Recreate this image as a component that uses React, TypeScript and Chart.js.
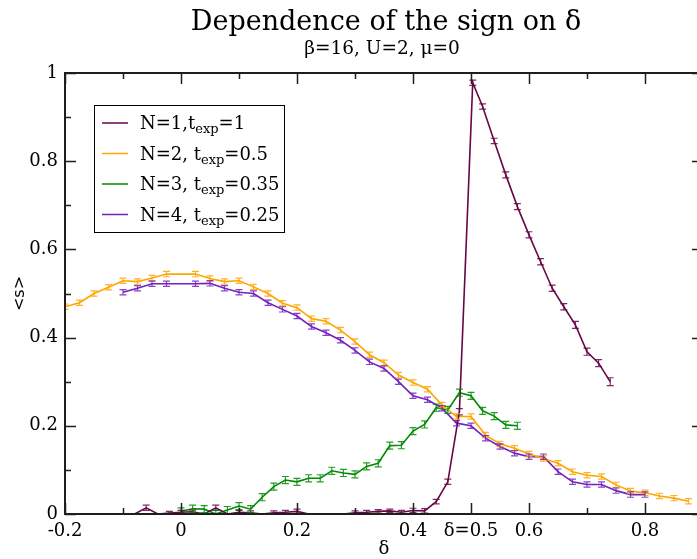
import React, { useEffect, useRef } from "react";
import { Chart, registerables } from "chart.js";

Chart.register(...registerables);

// ---- data ----
const N1_X = [-0.08, -0.06, -0.04, -0.02, 0, 0.02, 0.04, 0.06, 0.08, 0.1, 0.12, 0.14, 0.16, 0.18, 0.2, 0.22, 0.24, 0.26, 0.28, 0.3, 0.32, 0.34, 0.36, 0.38, 0.4, 0.42, 0.44, 0.46, 0.48, 0.503, 0.52, 0.54, 0.56, 0.58, 0.6, 0.62, 0.64, 0.66, 0.68, 0.7, 0.72, 0.74];
const N1_Y = [0.0, 0.014, 0.0, 0.002, 0.004, 0.005, 0.0, 0.014, 0.0, 0.004, 0.003, 0.0, 0.003, 0.004, 0.006, 0.0, 0.0, 0.0, 0.0, 0.003, 0.004, 0.006, 0.007, 0.004, 0.008, 0.007, 0.028, 0.073, 0.232, 0.978, 0.924, 0.846, 0.769, 0.697, 0.633, 0.572, 0.512, 0.47, 0.429, 0.368, 0.342, 0.3];
const N1_ERR = [0, 0.006, 0, 0.004, 0.004, 0.004, 0, 0.006, 0, 0.004, 0.004, 0, 0.004, 0.004, 0.005, 0, 0, 0, 0, 0.004, 0.004, 0.004, 0.004, 0.004, 0.005, 0.005, 0.005, 0.006, 0.007, 0.006, 0.006, 0.006, 0.007, 0.007, 0.007, 0.007, 0.007, 0.007, 0.008, 0.008, 0.008, 0.009];

const N2_X = [-0.2, -0.175, -0.15, -0.125, -0.1, -0.075, -0.05, -0.025, 0.025, 0.05, 0.075, 0.1, 0.125, 0.15, 0.175, 0.2, 0.225, 0.25, 0.275, 0.3, 0.325, 0.35, 0.375, 0.4, 0.425, 0.45, 0.475, 0.5, 0.525, 0.55, 0.575, 0.6, 0.625, 0.65, 0.675, 0.7, 0.725, 0.75, 0.775, 0.8, 0.825, 0.85, 0.875];
const N2_Y = [0.47, 0.479, 0.5, 0.514, 0.529, 0.527, 0.535, 0.544, 0.544, 0.534, 0.527, 0.529, 0.515, 0.5, 0.478, 0.468, 0.443, 0.437, 0.417, 0.391, 0.361, 0.343, 0.315, 0.298, 0.283, 0.247, 0.221, 0.221, 0.179, 0.159, 0.149, 0.136, 0.126, 0.115, 0.096, 0.088, 0.085, 0.066, 0.052, 0.048, 0.041, 0.036, 0.029];
const N2_ERR = 0.006;

const N3_X = [0, 0.02, 0.04, 0.06, 0.08, 0.1, 0.12, 0.14, 0.16, 0.18, 0.2, 0.22, 0.24, 0.26, 0.28, 0.3, 0.32, 0.34, 0.36, 0.38, 0.4, 0.42, 0.44, 0.46, 0.48, 0.5, 0.52, 0.54, 0.56, 0.58];
const N3_Y = [0.006, 0.012, 0.011, 0.0, 0.009, 0.018, 0.011, 0.038, 0.062, 0.077, 0.073, 0.081, 0.081, 0.098, 0.093, 0.09, 0.108, 0.115, 0.155, 0.156, 0.188, 0.203, 0.241, 0.236, 0.275, 0.268, 0.234, 0.222, 0.202, 0.2];
const N3_ERR = 0.008;

const N4_X = [-0.1, -0.075, -0.05, -0.025, 0.025, 0.05, 0.075, 0.1, 0.125, 0.15, 0.175, 0.2, 0.225, 0.25, 0.275, 0.3, 0.325, 0.35, 0.375, 0.4, 0.425, 0.45, 0.475, 0.5, 0.525, 0.55, 0.575, 0.6, 0.625, 0.65, 0.675, 0.7, 0.725, 0.75, 0.775, 0.8];
const N4_Y = [0.503, 0.512, 0.522, 0.522, 0.522, 0.523, 0.512, 0.503, 0.5, 0.479, 0.464, 0.449, 0.425, 0.411, 0.394, 0.371, 0.345, 0.33, 0.3, 0.268, 0.259, 0.24, 0.206, 0.2, 0.172, 0.153, 0.138, 0.13, 0.13, 0.096, 0.073, 0.067, 0.067, 0.053, 0.044, 0.044];
const N4_ERR = 0.006;

const SERIES_LABELS = ["N=1,t_{exp}=1", "N=2, t_{exp}=0.5", "N=3, t_{exp}=0.35", "N=4, t_{exp}=0.25"];
const SERIES_COLORS = ["rgb(103,7,72)", "rgb(255,165,0)", "rgb(0,139,0)", "rgb(114,33,188)"];

const X_TICK_VALUES = [-0.2, 0, 0.2, 0.4, 0.5, 0.6, 0.8];
const X_TICK_TEXT = ["-0.2", "0", "0.2", "0.4", "\u03b4=0.5", "0.6", "0.8"];
const X_MINOR = [-0.1, 0.1, 0.3, 0.7, 0.9];
const Y_TICK_VALUES = [0, 0.2, 0.4, 0.6, 0.8, 1];
const Y_TICK_TEXT = ["0", "0.2", "0.4", "0.6", "0.8", "1"];
const Y_MINOR = [0.1, 0.3, 0.5, 0.7, 0.9];

const TITLE = "Dependence of the sign on \u03b4";
const SUBTITLE = "\u03b2=16, U=2, \u03bc=0";
const X_TITLE = "\u03b4";
const Y_TITLE = "<s>";

const SERIF = "'DejaVu Serif', serif";
const SANS = "'DejaVu Sans', sans-serif";
const FRAME = "#1e1e1e";

const zip = (xs: number[], ys: number[]) => xs.map((x, i) => ({ x, y: ys[i] }));
const errAt = (e: number | number[], i: number) => (Array.isArray(e) ? e[i] : e);

const SERIES = [
  { xs: N1_X, ys: N1_Y, err: N1_ERR as number | number[] },
  { xs: N2_X, ys: N2_Y, err: N2_ERR as number | number[] },
  { xs: N3_X, ys: N3_Y, err: N3_ERR as number | number[] },
  { xs: N4_X, ys: N4_Y, err: N4_ERR as number | number[] },
];

const findLabel = (vals: number[], txt: string[], v: number) => {
  const i = vals.findIndex((t) => Math.abs(t - v) < 1e-6);
  return i >= 0 ? txt[i] : "";
};

// error bars with small caps
const errorBars = {
  id: "errorBars",
  afterDatasetsDraw(chart: any) {
    const { ctx, chartArea } = chart;
    const xs = chart.scales.x;
    const ys = chart.scales.y;
    ctx.save();
    ctx.beginPath();
    ctx.rect(chartArea.left, chartArea.top, chartArea.right - chartArea.left, chartArea.bottom - chartArea.top);
    ctx.clip();
    SERIES.forEach((s, si) => {
      ctx.strokeStyle = SERIES_COLORS[si];
      ctx.globalAlpha = 0.85;
      ctx.lineWidth = 1.2;
      s.xs.forEach((x, i) => {
        const e = errAt(s.err, i);
        if (e <= 0) return;
        const px = xs.getPixelForValue(x);
        const y1 = ys.getPixelForValue(s.ys[i] - e);
        const y2 = ys.getPixelForValue(s.ys[i] + e);
        ctx.beginPath();
        ctx.moveTo(px, y1);
        ctx.lineTo(px, y2);
        ctx.moveTo(px - 3.5, y1);
        ctx.lineTo(px + 3.5, y1);
        ctx.moveTo(px - 3.5, y2);
        ctx.lineTo(px + 3.5, y2);
        ctx.stroke();
      });
    });
    ctx.restore();
  },
};

// frame, inward ticks, titles and legend
const decorations = {
  id: "decorations",
  afterDraw(chart: any) {
    const { ctx, chartArea } = chart;
    const { left, right, top, bottom } = chartArea;
    const xs = chart.scales.x;
    const ys = chart.scales.y;
    ctx.save();

    // ticks
    ctx.strokeStyle = FRAME;
    ctx.lineWidth = 1.5;
    const xTick = (v: number, len: number) => {
      const p = Math.round(xs.getPixelForValue(v)) + 0.5;
      ctx.beginPath();
      ctx.moveTo(p, bottom);
      ctx.lineTo(p, bottom - len);
      ctx.moveTo(p, top);
      ctx.lineTo(p, top + len);
      ctx.stroke();
    };
    const yTick = (v: number, len: number) => {
      const p = Math.round(ys.getPixelForValue(v)) + 0.5;
      ctx.beginPath();
      ctx.moveTo(left, p);
      ctx.lineTo(left + len, p);
      ctx.moveTo(right, p);
      ctx.lineTo(right - len, p);
      ctx.stroke();
    };
    X_TICK_VALUES.forEach((v) => xTick(v, 11));
    X_MINOR.forEach((v) => xTick(v, 6));
    Y_TICK_VALUES.forEach((v) => yTick(v, 11));
    Y_MINOR.forEach((v) => yTick(v, 6));

    // frame
    ctx.lineWidth = 2;
    ctx.strokeRect(left, top, right - left, bottom - top);

    // titles
    const cx = (left + 697) / 2 + 2;
    ctx.fillStyle = "#000";
    ctx.textAlign = "center";
    ctx.textBaseline = "alphabetic";
    ctx.font = `27px ${SERIF}`;
    ctx.fillText(TITLE, cx + 3, 30);
    ctx.font = `18.5px ${SERIF}`;
    ctx.fillText(SUBTITLE, cx - 1, 54);

    // axis titles
    ctx.font = `18px ${SERIF}`;
    ctx.fillText(X_TITLE, 384, 554);
    ctx.save();
    ctx.translate(24, (top + bottom) / 2);
    ctx.rotate(-Math.PI / 2);
    ctx.font = `16px ${SANS}`;
    ctx.fillText(Y_TITLE, 0, 0);
    ctx.restore();

    // legend
    const bx = 94, by = 105, bw = 190, bh = 127;
    ctx.fillStyle = "#fff";
    ctx.fillRect(bx, by, bw, bh);
    ctx.lineWidth = 1;
    ctx.strokeStyle = "#000";
    ctx.strokeRect(bx + 0.5, by + 0.5, bw, bh);
    ctx.textAlign = "left";
    SERIES_LABELS.forEach((lab, i) => {
      const y = by + 18 + i * 30.5;
      ctx.strokeStyle = SERIES_COLORS[i];
      ctx.lineWidth = 1.5;
      ctx.beginPath();
      ctx.moveTo(102, y);
      ctx.lineTo(128, y);
      ctx.stroke();
      const m = lab.match(/^(.*)_\{(.*)\}(.*)$/);
      const parts = m ? [m[1], m[2], m[3]] : [lab, "", ""];
      let x = 140;
      ctx.fillStyle = "#000";
      ctx.font = `18px ${SERIF}`;
      ctx.fillText(parts[0], x, y + 6);
      x += ctx.measureText(parts[0]).width;
      ctx.font = `13px ${SERIF}`;
      ctx.fillText(parts[1], x, y + 10);
      x += ctx.measureText(parts[1]).width;
      ctx.font = `18px ${SERIF}`;
      ctx.fillText(parts[2], x, y + 6);
    });

    ctx.restore();
  },
};

export default function App() {
  const ref = useRef<HTMLCanvasElement | null>(null);

  useEffect(() => {
    if (!ref.current) return;
    const chart = new Chart(ref.current, {
      type: "line",
      data: {
        datasets: SERIES.map((s, i) => ({
          label: SERIES_LABELS[i],
          data: zip(s.xs, s.ys),
          borderColor: SERIES_COLORS[i],
          backgroundColor: SERIES_COLORS[i],
          borderWidth: 1.6,
          pointRadius: 0,
          tension: 0,
          fill: false,
        })),
      },
      options: {
        responsive: false,
        animation: false,
        devicePixelRatio: 1,
        layout: { padding: { top: 73, right: 7, left: 0, bottom: 0 } },
        plugins: {
          legend: { display: false },
          title: { display: false },
          tooltip: { enabled: false },
        },
        scales: {
          x: {
            type: "linear",
            min: -0.2,
            max: 0.9,
            grid: { display: false, drawTicks: false },
            border: { display: false },
            afterFit: (s: any) => {
              s.height = 45;
            },
            ticks: {
              stepSize: 0.1,
              autoSkip: false,
              maxRotation: 0,
              padding: 7,
              color: "#000",
              font: { family: SERIF, size: 18 },
              callback: (v: any) => findLabel(X_TICK_VALUES, X_TICK_TEXT, Number(v)),
            },
          },
          y: {
            type: "linear",
            min: 0,
            max: 1,
            grid: { display: false, drawTicks: false },
            border: { display: false },
            afterFit: (s: any) => {
              s.width = 65;
            },
            ticks: {
              stepSize: 0.1,
              autoSkip: false,
              padding: 7,
              color: "#000",
              font: { family: SERIF, size: 18 },
              callback: (v: any) => findLabel(Y_TICK_VALUES, Y_TICK_TEXT, Number(v)),
            },
          },
        },
      },
      plugins: [errorBars, decorations],
    });
    return () => chart.destroy();
  }, []);

  return (
    <div style={{ position: "absolute", left: 0, top: 0, width: 697, height: 559, overflow: "hidden", background: "#fff" }}>
      <canvas ref={ref} width={710} height={559} style={{ display: "block" }} />
    </div>
  );
}
